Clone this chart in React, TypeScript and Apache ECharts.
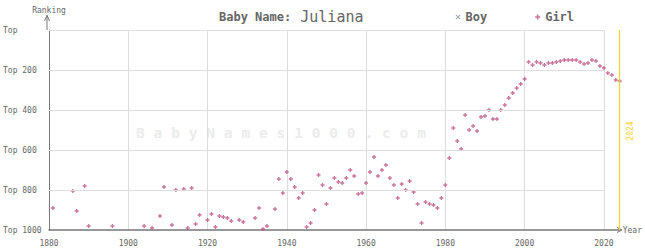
import React, { useEffect, useRef } from 'react';
import * as echarts from 'echarts';

// ---- data ----
const girlYears = [
  1881, 1886, 1887, 1889, 1890, 1896, 1904, 1906, 1908, 1909,
  1911, 1912, 1914, 1915, 1916, 1917, 1918, 1920, 1921, 1922,
  1923, 1924, 1925, 1926, 1928, 1929, 1932, 1933, 1934, 1935,
  1937, 1938, 1939, 1940, 1941, 1942, 1943, 1944, 1945, 1946,
  1947, 1948, 1949, 1950, 1951, 1952, 1953, 1954, 1955, 1956,
  1957, 1958, 1959, 1960, 1961, 1962, 1963, 1964, 1965, 1966,
  1967, 1968, 1969, 1970, 1971, 1972, 1973, 1974, 1975, 1976,
  1977, 1978, 1979, 1980, 1981, 1982, 1983, 1984, 1985, 1986,
  1987, 1988, 1989, 1990, 1991, 1992, 1993, 1994, 1995, 1996,
  1997, 1998, 1999, 2000, 2001, 2002, 2003, 2004, 2005, 2006,
  2007, 2008, 2009, 2010, 2011, 2012, 2013, 2014, 2015, 2016,
  2017, 2018, 2019, 2020, 2021, 2022, 2023, 2024,
];
const girlRanks = [
  890, 805, 905, 780, 980, 980, 980, 990, 930, 785,
  975, 800, 795, 990, 790, 970, 925, 950, 920, 985,
  930, 935, 940, 955, 950, 960, 940, 890, 995, 980,
  895, 745, 815, 710, 745, 785, 840, 815, 985, 965,
  900, 725, 775, 870, 790, 740, 760, 765, 740, 700,
  730, 820, 815, 765, 710, 635, 730, 700, 675, 740,
  775, 840, 770, 800, 755, 810, 870, 965, 860, 870,
  875, 890, 840, 775, 640, 490, 555, 595, 425, 500,
  480, 505, 435, 430, 400, 445, 445, 400, 375, 340,
  315, 290, 270, 245, 160, 175, 160, 165, 175, 165,
  165, 160, 155, 150, 150, 150, 150, 160, 170, 165,
  150, 155, 180, 190, 215, 225, 250, 255,
];
const boyYears: number[] = [];
const boyRanks: number[] = [];

const rankGridTicks = [0, 200, 400, 600, 800];
const yearMin = 1880;
const yearMax = 2024;
const gridEndYear = 2020;
const currentYear = 2024;
const nameText = 'Juliana';

const MONO = '"DejaVu Sans Mono", "Liberation Mono", monospace';
const GIRL_COLOR = '#be5081';
const BOY_COLOR = '#8a92a8';
const PLUS = 'path://M0,1.35H4V2.65H0Z M1.35,0H2.65V4H1.35Z';
const CROSS =
  'path://M0,0.7L0.7,0L2.5,1.8L4.3,0L5,0.7L3.2,2.5L5,4.3L4.3,5L2.5,3.2L0.7,5L0,4.3L1.8,2.5Z';

export default function App() {
  const ref = useRef<HTMLDivElement>(null);

  useEffect(() => {
    document.body.style.margin = '0';
    if (!ref.current) return;
    const chart = echarts.init(ref.current, undefined, { renderer: 'svg' });

    const girlData = girlYears.map((y, i) => [y, girlRanks[i]]);
    const boyData = boyYears.map((y, i) => [y, boyRanks[i]]);

    const gridLines = rankGridTicks.map((r) => [
      { coord: [yearMin, r] },
      { coord: [gridEndYear, r] },
    ]);

    const option: any = {
      animation: false,
      title: {
        left: 219,
        top: 9,
        padding: 0,
        text: '{a|Baby Name:}{b| ' + nameText + '}',
        textStyle: {
          rich: {
            a: { fontFamily: MONO, fontSize: 12, fontWeight: 'bold', color: '#666' },
            b: { fontFamily: MONO, fontSize: 15, fontWeight: 'normal', color: '#666' },
          },
        },
      },
      legend: {
        left: 455.5,
        top: 11,
        padding: 0,
        itemWidth: 5,
        itemHeight: 5,
        itemGap: 48,
        textStyle: { fontFamily: MONO, fontSize: 12, fontWeight: 'bold', color: '#666' },
        data: [
          { name: 'Boy', icon: CROSS, itemStyle: { color: BOY_COLOR } },
          { name: 'Girl', icon: PLUS, itemStyle: { color: GIRL_COLOR } },
        ],
      },
      grid: { left: 47, top: 30, right: 22, bottom: 20 },
      xAxis: {
        type: 'value',
        min: yearMin,
        max: yearMax,
        interval: 20,
        name: 'Year',
        nameLocation: 'end',
        nameGap: 3,
        nameTextStyle: { fontFamily: MONO, fontSize: 8, color: '#666' },
        axisLine: { show: true, onZero: false, lineStyle: { color: '#777', width: 1.5 } },
        axisTick: { show: false },
        axisLabel: {
          fontFamily: MONO,
          fontSize: 8,
          color: '#666',
          margin: 9,
          formatter: (v: number) => (v % 20 === 0 ? String(v) : ''),
        },
        splitLine: { show: true, lineStyle: { color: '#ddd', width: 1 } },
      },
      yAxis: {
        type: 'value',
        inverse: true,
        min: 0,
        max: 1000,
        interval: 200,
        name: 'Ranking',
        nameLocation: 'start',
        nameGap: 16,
        nameTextStyle: { fontFamily: MONO, fontSize: 8, color: '#666' },
        axisLine: { show: true, onZero: false, lineStyle: { color: '#777', width: 1 } },
        axisTick: { show: false },
        axisLabel: {
          fontFamily: MONO,
          fontSize: 8,
          color: '#666',
          align: 'left',
          margin: 46,
          formatter: (v: number) => (v === 0 ? 'Top' : 'Top ' + v),
        },
        splitLine: { show: false },
      },
      series: [
        {
          name: 'Boy',
          type: 'scatter',
          symbol: CROSS,
          symbolSize: 5,
          itemStyle: { color: BOY_COLOR },
          data: boyData,
        },
        {
          name: 'Girl',
          type: 'scatter',
          symbol: PLUS,
          symbolSize: 4,
          itemStyle: { color: GIRL_COLOR },
          data: girlData,
          z: 3,
          markLine: {
            silent: true,
            symbol: 'none',
            label: { show: false },
            emphasis: { disabled: true },
            lineStyle: { color: '#ddd', type: 'solid', width: 1 },
            data: [
              ...gridLines,
              { xAxis: currentYear, lineStyle: { color: '#f5d31c', type: 'solid', width: 1.2 } },
            ],
          },
        },
      ],
      graphic: [
        {
          type: 'text',
          x: 136,
          y: 132,
          z: 0,
          silent: true,
          style: {
            text: 'B a b y N a m e s 1 0 0 0 . c o m',
            fontFamily: MONO,
            fontSize: 14.6,
            fontWeight: 'bold',
            fill: '#ececec',
            verticalAlign: 'middle',
          },
        },
        {
          type: 'text',
          x: 630,
          y: 131,
          rotation: Math.PI / 2,
          silent: true,
          style: {
            text: String(currentYear),
            fontFamily: MONO,
            fontSize: 8,
            fill: '#f5d31c',
            align: 'center',
            verticalAlign: 'middle',
          },
        },
        {
          type: 'line',
          silent: true,
          shape: { x1: 47, y1: 30, x2: 47, y2: 15 },
          style: { stroke: '#777', lineWidth: 1 },
        },
        {
          type: 'polyline',
          silent: true,
          shape: { points: [[44.5, 21], [47, 15.5], [49.5, 21]] },
          style: { stroke: '#777', lineWidth: 1, fill: 'none' },
        },
        {
          type: 'polyline',
          silent: true,
          shape: { points: [[617, 227.5], [622, 230], [617, 232.5]] },
          style: { stroke: '#777', lineWidth: 1, fill: 'none' },
        },
      ],
    };

    chart.setOption(option);
    return () => chart.dispose();
  }, []);

  return <div ref={ref} style={{ width: 645, height: 250 }} />;
}
